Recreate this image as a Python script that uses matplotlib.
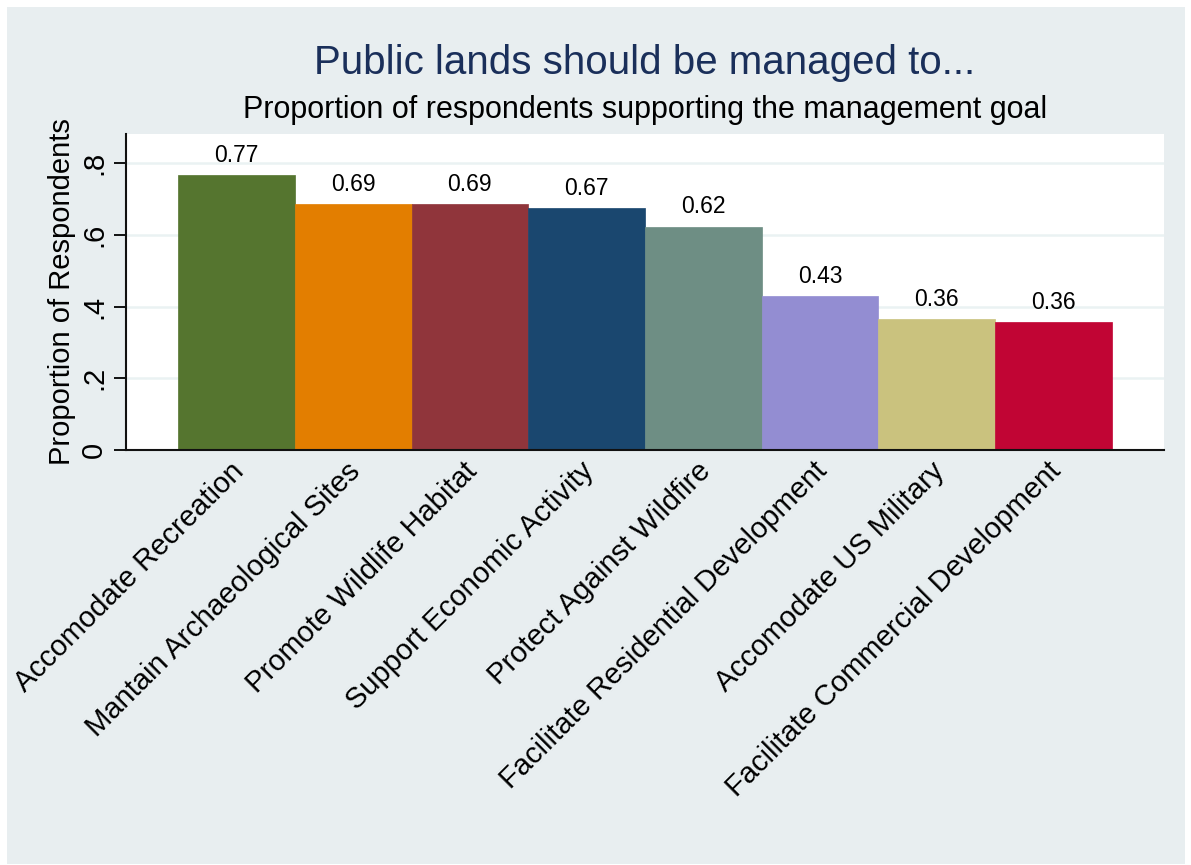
import matplotlib.pyplot as plt
from matplotlib.patches import Rectangle
from matplotlib.transforms import ScaledTranslation

plt.rcParams['font.family'] = ['Liberation Sans', 'DejaVu Sans']

# data
goals = ['Accomodate Recreation', 'Mantain Archaeological Sites', 'Promote Wildlife Habitat',
         'Support Economic Activity', 'Protect Against Wildfire', 'Facilitate Residential Development',
         'Accomodate US Military', 'Facilitate Commercial Development']
props = [0.767, 0.686, 0.686, 0.674, 0.623, 0.428, 0.364, 0.357]
bar_colors = ['#55752f', '#e37e00', '#90353b', '#1a476f', '#6e8e84', '#938dd2', '#cac27e', '#c10534']
yticks = [0, 0.2, 0.4, 0.6, 0.8]
ytick_labels = ['0', '.2', '.4', '.6', '.8']

bg = '#e8eef0'
fig = plt.figure(figsize=(11.91, 8.65), dpi=100)
fig.patch.set_facecolor('white')
fig.patches.append(Rectangle((7 / 1191, 1 / 865), 1178 / 1191, 857 / 865,
                             transform=fig.transFigure, facecolor=bg, edgecolor='none', zorder=-1))

ax = fig.add_axes([126 / 1191, 1 - 450 / 865, 1038 / 1191, 316 / 865])
ax.set_facecolor('white')

x = range(len(goals))
ax.bar(x, props, width=1.0, color=bar_colors, edgecolor=bar_colors, linewidth=0.5, zorder=2)
for xi, v in zip(x, props):
    ax.annotate(f'{v:.2f}', (xi, v), xytext=(0, 6), textcoords='offset points',
                ha='center', va='bottom', fontsize=16.5, color='black')

ax.set_xlim(-0.946, 7.946)
ax.set_ylim(0, 0.881)
ax.set_yticks(yticks)
ax.set_yticklabels(ytick_labels, rotation=90, va='center', fontsize=21)
ax.tick_params(axis='y', length=9, width=1.3, pad=4)
ax.set_xticks(list(x))
ax.set_xticklabels(goals, rotation=45, ha='right', rotation_mode='anchor', fontsize=21)
ax.tick_params(axis='x', length=0, pad=5)
shift = ScaledTranslation(-7 / 100, 0, fig.dpi_scale_trans)
for lbl in ax.get_xticklabels():
    lbl.set_transform(lbl.get_transform() + shift)
ax.grid(axis='y', color='#eaf2f3', linewidth=1.8, zorder=1)
ax.set_axisbelow(True)
for s in ['top', 'right']:
    ax.spines[s].set_visible(False)
for s in ['left', 'bottom']:
    ax.spines[s].set_linewidth(1.5)
    ax.spines[s].set_color('#111111')

ax.set_ylabel('Proportion of Respondents', fontsize=21, labelpad=3)

fig.text(645 / 1191, 1 - 63 / 865, 'Public lands should be managed to...', ha='center', va='center',
         fontsize=29, color='#1a2f5a')
fig.text(645 / 1191, 1 - 110 / 865, 'Proportion of respondents supporting the management goal',
         ha='center', va='center', fontsize=22, color='black')

fig.savefig('out.png', dpi=100)
